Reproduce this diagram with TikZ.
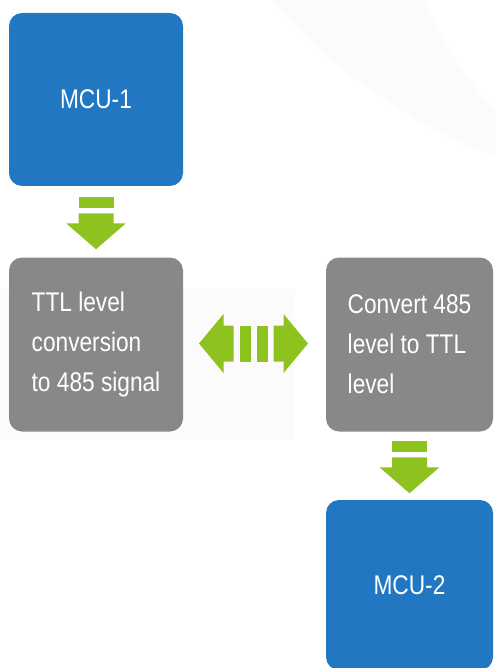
\documentclass[tikz,border=0pt]{standalone}
\usepackage{fontspec}
\setmainfont{Liberation Sans}[FakeStretch=0.84]
\usetikzlibrary{calc}
\definecolor{mcublue}{HTML}{2277C2}
\definecolor{convgray}{HTML}{888888}
\definecolor{flowgreen}{HTML}{8EC31F}
\definecolor{faintgray}{HTML}{FBFBFB}
\begin{document}
\begin{tikzpicture}[x=1pt,y=-1pt,
  box/.style={rounded corners=13pt, minimum width=174pt, minimum height=174pt,
    inner sep=0pt, text=white, font=\fontsize{27}{40}\selectfont, align=left},
  mcu/.style={box, fill=mcublue, align=center},
  conv/.style={box, fill=convgray},
  downarrow/.pic={
    \fill[flowgreen] (-17.5,-26) rectangle (17.5,-15);
    \fill[flowgreen] (-17.5,-10) -- (17.5,-10) -- (17.5,0) -- (30,0)
      -- (0,26) -- (-30,0) -- (-17.5,0) -- cycle;
  },
  bothways/.pic={
    \fill[flowgreen] (-54.5,0) -- (-30,-29.5) -- (-30,-18) -- (-20,-18)
      -- (-20,18) -- (-30,18) -- (-30,29.5) -- cycle;
    \fill[flowgreen] (-14,-18) rectangle (-3,18);
    \fill[flowgreen] (3,-18) rectangle (14,18);
    \fill[flowgreen] (54.5,0) -- (30,-29.5) -- (30,-18) -- (20,-18)
      -- (20,18) -- (30,18) -- (30,29.5) -- cycle;
  }]
\useasboundingbox (0,0) rectangle (495,668);

% faint background decoration
\fill[faintgray] (272,0) .. controls (330,70) and (420,130) .. (495,157)
  -- (495,110) .. controls (470,85) and (445,45) .. (423,0) -- cycle;
\fill[faintgray] (0,289) rectangle (295,440);

% blocks
\node[mcu, minimum height=173pt] (mcu1) at (96,99.5) {MCU-1};
\node[conv] (ttl) at (96,344.5) {TTL level\\conversion\\to 485 signal};
\node[conv, minimum width=167pt] (rs) at (409.5,344.5) {Convert 485\\level to TTL\\level};
\node[mcu, minimum width=167pt, minimum height=170pt] (mcu2) at (409.5,585) {MCU-2};

% flow arrows
\pic at ($(mcu1.south)!0.5!(ttl.north)+(0,1.5)$) {downarrow};
\pic at ($(rs.south)!0.5!(mcu2.north)+(0,1.5)$) {downarrow};
\pic at ($(ttl.east)!0.5!(rs.west)+(-1,-1)$) {bothways};
\end{tikzpicture}
\end{document}
